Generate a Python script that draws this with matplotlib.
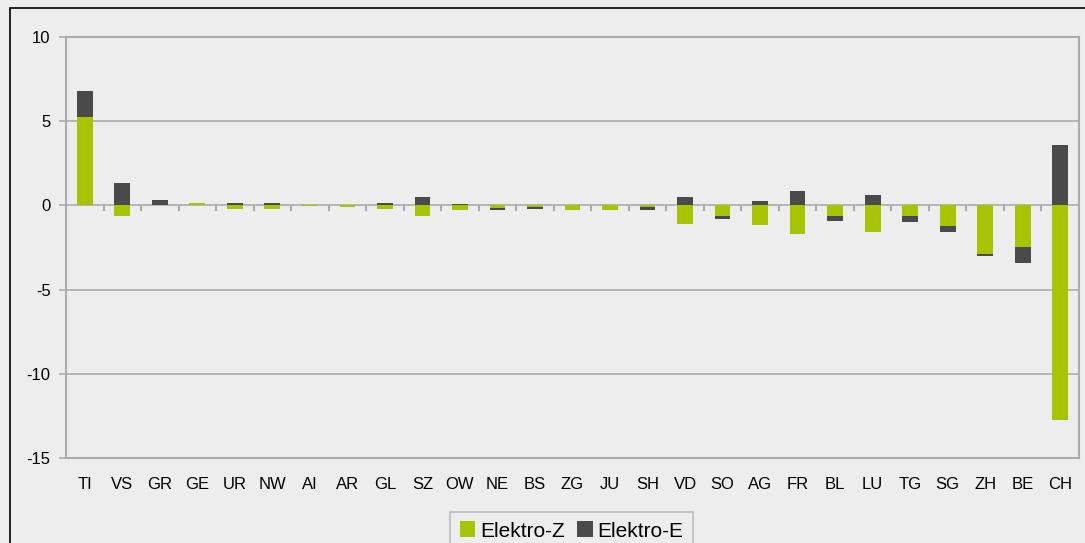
import numpy as np
import matplotlib.pyplot as plt
from matplotlib.patches import Rectangle

plt.rcParams['font.family'] = ['Liberation Sans', 'DejaVu Sans']

# Kantone und Werte
cantons = ["TI", "VS", "GR", "GE", "UR", "NW", "AI", "AR", "GL", "SZ", "OW", "NE", "BS",
           "ZG", "JU", "SH", "VD", "SO", "AG", "FR", "BL", "LU", "TG", "SG", "ZH", "BE", "CH"]
elektro_z = [5.24, -0.65, 0.02, 0.12, -0.24, -0.24, -0.02, -0.1, -0.24, -0.65, -0.3, -0.18, -0.12,
             -0.3, -0.3, -0.12, -1.1, -0.63, -1.17, -1.7, -0.63, -1.59, -0.63, -1.23, -2.9, -2.48, -12.73]
elektro_e = [1.55, 1.31, 0.3, 0.02, 0.12, 0.12, 0.0, 0.0, 0.12, 0.48, 0.08, -0.12, -0.12,
             0.0, 0.0, -0.18, 0.5, -0.2, 0.25, 0.85, -0.3, 0.61, -0.36, -0.36, -0.12, -0.95, 3.58]

green = '#a6c400'
dark = '#4a4a4a'
bg = '#ededed'
grid_c = '#ababab'

z = np.array(elektro_z)
e = np.array(elektro_e)
x = np.arange(len(cantons))
# E stapelt auf Z, wenn gleiches Vorzeichen, sonst ab 0
e_bottom = np.where(np.sign(e) == np.sign(z), z, 0)

fig = plt.figure(figsize=(10.85, 5.43), dpi=100, facecolor=bg)
ax = fig.add_axes([66 / 1085, 1 - 458 / 543, 1013 / 1085, 421 / 543])
ax.set_facecolor(bg)

ax.bar(x, z, width=0.42, color=green, label="Elektro-Z", zorder=3)
ax.bar(x, e, width=0.42, bottom=e_bottom, color=dark, label="Elektro-E", zorder=3)

ax.set_xlim(-0.5, len(cantons) - 0.5)
ax.set_ylim(-15, 10)
ax.set_yticks([-15, -10, -5, 0, 5, 10])
ax.set_yticklabels(["-15", "-10", "-5", "0", "5", "10"])
ax.yaxis.grid(True, color=grid_c, lw=1.2, zorder=1)
ax.set_axisbelow(True)

ax.set_xticks(x)
ax.set_xticklabels(cantons)
ax.tick_params(axis='x', length=0, pad=14, labelsize=12)
ax.tick_params(axis='y', length=5, color=grid_c, width=1.2, labelsize=12, pad=6)

for s in ax.spines.values():
    s.set_color(grid_c)
    s.set_linewidth(1.5)

# Teilstriche zwischen den Kategorien an der Nulllinie
bounds = np.arange(-0.5, len(cantons), 1.0)[1:-1]
ax.vlines(bounds, -0.35, 0, color=grid_c, lw=1.5, zorder=2)

leg = fig.legend(loc='upper center', bbox_to_anchor=(0.527, 1 - 512 / 543), ncol=2,
                 fontsize=15, frameon=True, fancybox=False, handlelength=0.75,
                 handleheight=0.8, handletextpad=0.25, columnspacing=0.55,
                 borderpad=0.45, borderaxespad=0)
leg.get_frame().set_edgecolor('#b0b0b0')
leg.get_frame().set_facecolor(bg)
leg.get_frame().set_linewidth(1.2)

# aeusserer Rahmen
fig.patches.append(Rectangle((10 / 1085, -0.1), 1.2, 1 - 8 / 543 + 0.1,
                             transform=fig.transFigure, fill=False,
                             edgecolor='black', lw=1.2))

plt.savefig("out.png", dpi=100, facecolor=bg)
